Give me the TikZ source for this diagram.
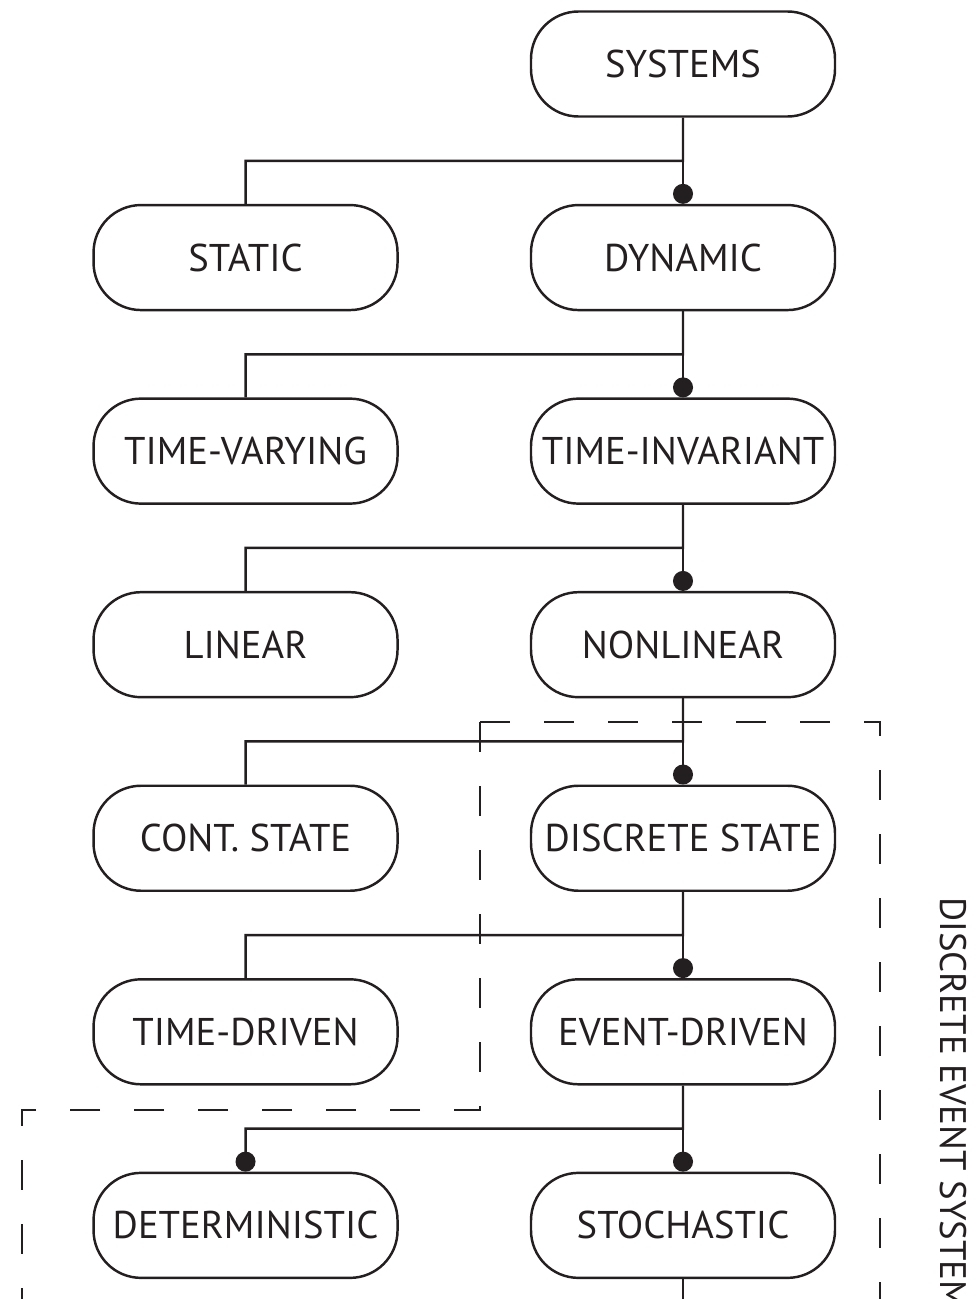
\documentclass[tikz,border=0pt]{standalone}
\usepackage{fontspec}
\newfontfamily\boxfont{PT Sans}
\usepackage{tikz}
\usetikzlibrary{positioning,calc,arrows.meta}
\definecolor{ink}{RGB}{35,31,32}
\tikzset{every node/.style={align=center, text=ink}, >=latex,
  font=\boxfont\fontsize{22}{26}\selectfont,
  sysbox/.style={draw=ink, line width=1.4pt, rectangle, rounded corners=0.95cm,
    minimum width=6.08cm, minimum height=2.1cm, inner sep=0pt},
  link/.style={draw=ink, line width=1.4pt},
  dotlink/.style={link, -{Circle[length=0.4cm]}},
  region/.style={draw=ink, line width=1.4pt, dash pattern=on 0.6cm off 0.68cm}}

\begin{document}
\begin{tikzpicture}[node distance=1.722cm and 2.62cm]
            \clip (0,0) rectangle (19.52,-25.98);
            \useasboundingbox (0,0) rectangle (19.52,-25.98);
            \node [sysbox] (sys) at (13.66,-1.28) {SYSTEMS};
            \node [sysbox] (dyn) [below=of sys] {DYNAMIC};
            \node [sysbox] (stat) [left=of dyn] {STATIC};
            \node [sysbox] (tinv) [below=of dyn] {TIME-INVARIANT};
            \node [sysbox] (tvar) [left=of tinv] {TIME-VARYING};
            \node [sysbox] (nonlin) [below=of tinv] {NONLINEAR};
            \node [sysbox] (lin) [left=of nonlin] {LINEAR};
            \node [sysbox] (disc) [below=of nonlin] {DISCRETE STATE};
            \node [sysbox] (cont) [left=of disc] {CONT. STATE};
            \node [sysbox] (event) [below=of disc] {EVENT-DRIVEN};
            \node [sysbox] (tdriv) [left=of event] {TIME-DRIVEN};
            \node [sysbox] (stoch) [below=of event] {STOCHASTIC};
            \node [sysbox] (det) [left=of stoch] {DETERMINISTIC};
            \coordinate (tail) at ([yshift=-1.5cm]stoch.south);

            % branches
            \foreach \p/\c/\s in {sys/dyn/stat, dyn/tinv/tvar, tinv/nonlin/lin, nonlin/disc/cont, disc/event/tdriv}{
                \path [dotlink] (\p.south) -- (\c.north);
                \path [link] (\p.south) -- ($(\p.south)!0.5!(\c.north)$) -| (\s.north);
            }
            \path [dotlink] (event.south) -- (stoch.north);
            \path [dotlink] (event.south) -- ($(event.south)!0.5!(stoch.north)$) -| (det.north);
            \path [link] (stoch.south) -- (tail);

            % discrete event region
            \path [region] (9.6,-14.44) -- (17.6,-14.44) -- (17.6,-27);
            \path [region] (9.6,-14.44) -- (9.6,-22.2) -- (0.44,-22.2) -- (0.44,-27);
            \node [rotate=-90, anchor=base west, inner sep=0pt, font=\boxfont\fontsize{21}{25}\selectfont] (des) at (18.8,-17.94) {DISCRETE EVENT SYSTEM};
        \end{tikzpicture}
\end{document}
